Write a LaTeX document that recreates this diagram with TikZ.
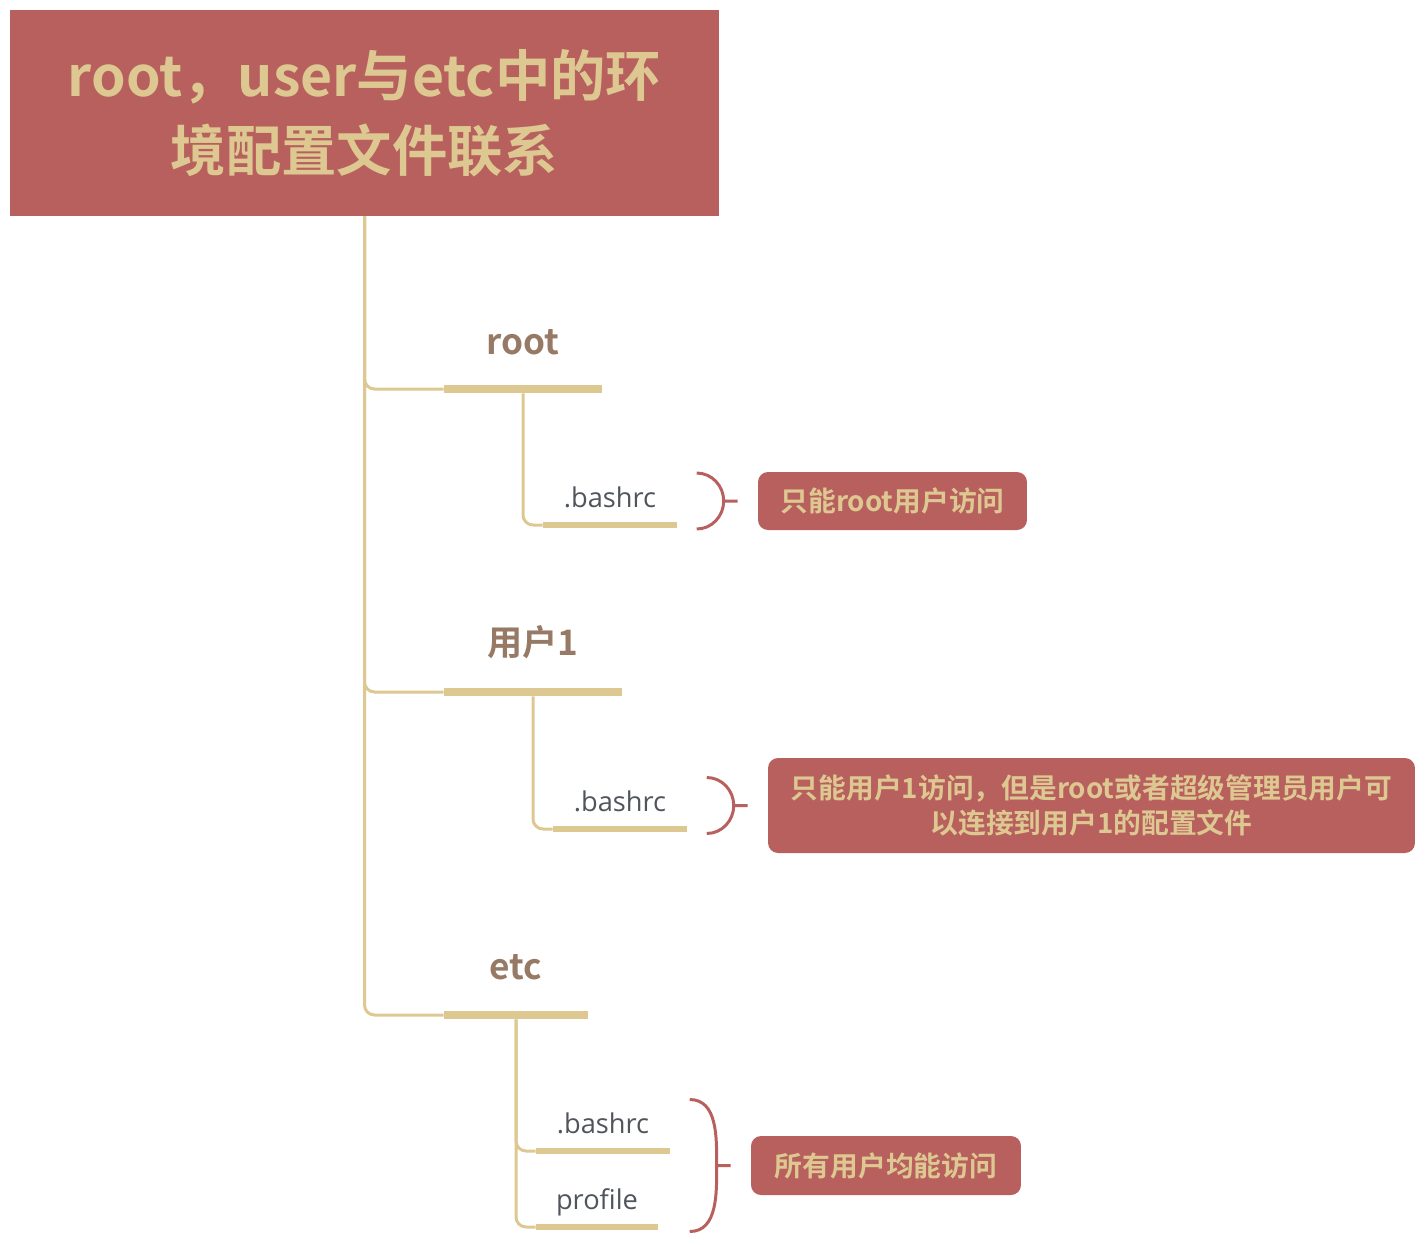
\documentclass[tikz,border=0pt]{standalone}
\usepackage{fontspec}
\setmainfont{Open Sans}
\newfontfamily\cjk{Noto Sans CJK SC}[BoldFont={Noto Sans CJK SC Bold}]
\usetikzlibrary{positioning}

\definecolor{boxred}{HTML}{B8605E}
\definecolor{gold}{HTML}{DEC891}
\definecolor{labbrown}{HTML}{977A66}
\definecolor{filegray}{HTML}{50555C}

\tikzset{
    topic/.style={rectangle, fill=boxred, text=gold, inner sep=0pt, align=center,
        font=\cjk\bfseries\fontsize{31.5}{42.5}\selectfont},
    note/.style={rectangle, rounded corners=0.2cm, fill=boxred, text=gold, inner sep=0pt, align=center,
        font=\cjk\bfseries\fontsize{15.8}{20.4}\selectfont},
    bigbar/.style={rectangle, fill=gold, inner sep=0pt, minimum height=0.16cm, minimum width=#1},
    smallbar/.style={rectangle, fill=gold, inner sep=0pt, minimum height=0.12cm, minimum width=#1},
    dirlab/.style={inner sep=0pt, text=labbrown, font=\cjk\bfseries\fontsize{20}{24}\selectfont},
    filelab/.style={inner sep=0pt, text depth=0pt, text=filegray, font=\fontsize{15.5}{18}\selectfont},
    trunk/.style={draw=gold, line width=1.7pt, rounded corners=0.2cm},
    curly/.style={draw=boxred, line width=1.7pt}
}

\newcommand{\bracket}[2]{%
    \draw[curly] ([xshift=-0.4cm]#1.west) -- ++(-0.28cm,0) coordinate (mid)
        to[out=90, in=0] ++(-0.54cm,#2) (mid) to[out=-90, in=0] ++(-0.54cm,-#2);}

\begin{document}
\begin{tikzpicture}[x=0.02cm, y=-0.02cm]
    \useasboundingbox (0, 0) rectangle (1425, 1244);

    % central topic
    \node[topic, minimum width=14.18cm, minimum height=4.12cm] (title) at (364.5, 113) {root，user与etc中的环\\境配置文件联系};

    % branch bars
    \node[bigbar=3.16cm] (rootbar) at (523, 389) {};
    \node[bigbar=3.56cm] (userbar) at (533, 692) {};
    \node[bigbar=2.88cm] (etcbar) at (516, 1015) {};

    \node[dirlab, above=0.58cm of rootbar] (rootlab) {root};
    \node[dirlab, above=0.56cm of userbar] (userlab) {用户1};
    \node[dirlab, above=0.6cm of etcbar] (etclab) {etc};

    % file bars
    \node[smallbar=2.68cm] (rootrc) at (610, 525) {};
    \node[smallbar=2.68cm] (userrc) at (620, 829) {};
    \node[smallbar=2.68cm] (etcrc) at (603, 1151) {};
    \node[smallbar=2.44cm] (etcpro) at (597, 1227) {};

    \node[filelab, above=0.28cm of rootrc] (rootrclab) {.bashrc};
    \node[filelab, above=0.28cm of userrc] (userrclab) {.bashrc};
    \node[filelab, above=0.28cm of etcrc] (etcrclab) {.bashrc};
    \node[filelab, above=0.28cm of etcpro] (etcprolab) {profile};

    % connectors
    \draw[trunk] (title.south) |- (rootbar.west);
    \draw[trunk] (title.south) |- (userbar.west);
    \draw[trunk] (title.south) |- (etcbar.west);
    \draw[trunk] (rootbar.south) |- (rootrc.west);
    \draw[trunk] (userbar.south) |- (userrc.west);
    \draw[trunk] (etcbar.south) |- (etcrc.west);
    \draw[trunk] (etcbar.south) |- (etcpro.west);

    % notes
    \node[note, minimum width=5.38cm, minimum height=1.16cm] (rootnote) at (892.5, 501) {只能root用户访问};
    \node[note, minimum width=12.94cm, minimum height=1.9cm] (usernote) at (1091.5, 805.5) {只能用户1访问，但是root或者超级管理员用户可\\以连接到用户1的配置文件};
    \node[note, minimum width=5.4cm, minimum height=1.18cm] (etcnote) at (886, 1165.5) {所有用户均能访问};

    \bracket{rootnote}{0.56cm}
    \bracket{usernote}{0.56cm}
    \bracket{etcnote}{1.32cm}
\end{tikzpicture}
\end{document}
